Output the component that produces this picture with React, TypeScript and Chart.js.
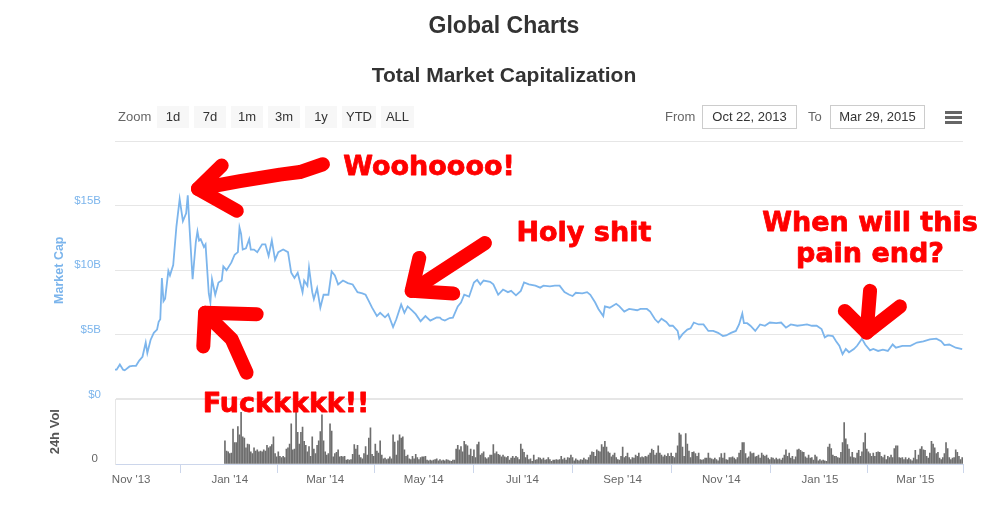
import React, { useEffect, useRef } from 'react';
import { Chart, registerables } from 'chart.js';

Chart.register(...registerables);

// ---- Data (day index: 0 = Oct 22, 2013) ----
// Total market capitalization, [day, $ billions]
const marketCap: [number, number][] = [
  [0, 2.3], [1, 2.3], [3, 2.7], [5, 2.3], [6, 2.25], [9, 2.55], [11, 2.6], [13, 2.6], [15, 3.0], [17, 3.3],
  [19, 4.4], [20, 3.6], [22, 4.6], [24, 5.15], [26, 5.4], [27, 6.0], [28, 6.2], [29, 9.4], [30, 7.6], [31, 7.8],
  [33, 9.95], [34, 9.6], [36, 10.4], [38, 13.4], [40, 15.5], [42, 13.8], [44, 14.4], [45, 15.8], [46, 13.5], [48, 9.3],
  [50, 12.2], [51, 13.0], [52, 12.3], [53, 12.4], [55, 11.8], [56, 12.0], [58, 8.2], [59, 7.5], [60, 9.3], [62, 8.1],
  [64, 9.05], [66, 9.2], [67, 10.3], [69, 10.0], [70, 10.2], [72, 10.6], [74, 11.2], [76, 11.4], [77, 13.3], [78, 12.8],
  [79, 11.6], [81, 11.7], [83, 12.4], [84, 11.6], [86, 11.6], [88, 11.4], [91, 12.0], [93, 12.0], [95, 11.1], [97, 12.3],
  [99, 10.8], [101, 11.4], [104, 11.6], [107, 11.4], [109, 9.8], [111, 9.4], [113, 9.8], [116, 8.3], [117, 9.2], [119, 8.8],
  [120, 10.2], [122, 8.3], [123, 7.75], [125, 8.6], [127, 7.1], [129, 8.1], [132, 8.1], [134, 9.9], [136, 9.6], [138, 8.9],
  [141, 9.2], [144, 9.0], [147, 8.9], [150, 8.3], [153, 8.2], [155, 8.1], [157, 7.6], [159, 7.1], [162, 6.45], [164, 6.7],
  [167, 6.35], [169, 6.6], [172, 5.6], [174, 6.2], [177, 7.35], [179, 6.7], [181, 7.2], [184, 6.85], [186, 6.6], [189, 6.05],
  [192, 6.45], [195, 6.1], [199, 6.35], [201, 6.33], [202, 6.2], [204, 6.1], [207, 6.3], [209, 6.33], [212, 7.2], [214, 7.5],
  [216, 8.1], [219, 7.95], [222, 9.05], [224, 9.25], [226, 8.9], [228, 9.2], [232, 9.1], [234, 8.9], [237, 8.1], [240, 8.5],
  [243, 8.3], [245, 8.4], [248, 8.05], [251, 8.4], [253, 9.05], [256, 8.9], [260, 8.8], [263, 8.65], [265, 8.8], [269, 8.75],
  [272, 8.8], [275, 8.8], [278, 8.3], [281, 8.1], [283, 8.0], [285, 8.25], [289, 8.2], [292, 8.3], [294, 8.1], [297, 7.5],
  [299, 7.0], [302, 6.45], [303, 7.2], [306, 7.1], [310, 7.4], [312, 7.2], [315, 6.8], [318, 7.0], [323, 6.9], [325, 7.0],
  [329, 7.0], [331, 6.8], [334, 6.2], [336, 5.95], [338, 6.25], [341, 6.0], [343, 5.7], [345, 5.7], [348, 5.3], [349, 4.7],
  [351, 5.05], [354, 5.4], [356, 5.5], [358, 5.95], [361, 5.8], [364, 5.8], [367, 5.3], [370, 5.3], [373, 5.15], [376, 4.9],
  [378, 4.95], [381, 5.15], [384, 5.3], [386, 5.8], [388, 6.65], [389, 5.9], [391, 5.9], [393, 5.7], [396, 5.3], [399, 5.8],
  [402, 5.7], [405, 5.95], [409, 5.9], [412, 5.95], [415, 5.55], [418, 5.8], [422, 5.7], [425, 5.75], [428, 5.8], [431, 5.7],
  [434, 5.7], [437, 5.45], [439, 4.8], [441, 4.95], [444, 4.9], [446, 4.5], [448, 4.15], [450, 3.5], [452, 3.9], [454, 3.65],
  [457, 3.9], [459, 4.15], [462, 4.7], [464, 4.25], [467, 3.8], [469, 3.9], [472, 3.75], [475, 3.85], [478, 3.75], [481, 4.25],
  [483, 4.0], [487, 4.15], [492, 4.15], [496, 4.4], [500, 4.5], [504, 4.65], [508, 4.7], [511, 4.5], [513, 4.2], [516, 4.25],
  [520, 4.0], [524, 3.9],
];

// 24h volume, one bar per day starting at volumeStartDay (relative units, axis 0..100)
const volumeStartDay = 68;
const volume: number[] = [
  36, 20, 19, 16, 17, 54, 33, 33, 58, 45, 80, 42, 40, 25, 31, 30, 19, 16, 25, 20,
  22, 19, 20, 19, 22, 20, 29, 25, 27, 30, 42, 16, 11, 19, 12, 10, 12, 10, 23, 25,
  31, 62, 22, 23, 80, 49, 31, 49, 57, 35, 29, 19, 27, 12, 42, 23, 16, 29, 36, 50,
  76, 36, 19, 14, 16, 62, 51, 11, 16, 18, 22, 11, 12, 11, 12, 6, 7, 6, 7, 15,
  30, 23, 29, 14, 10, 8, 16, 27, 14, 40, 56, 15, 12, 31, 20, 17, 36, 14, 8, 9,
  7, 8, 11, 8, 45, 34, 14, 36, 45, 40, 42, 22, 12, 14, 8, 7, 12, 8, 15, 10,
  7, 10, 11, 11, 12, 6, 5, 6, 5, 6, 7, 8, 5, 7, 5, 6, 5, 7, 6, 5,
  4, 6, 6, 23, 29, 22, 27, 19, 35, 30, 28, 14, 23, 12, 22, 10, 30, 34, 14, 16,
  19, 10, 8, 10, 14, 14, 30, 16, 19, 15, 14, 11, 14, 11, 10, 12,
  6, 9, 12, 9, 12, 10, 7, 31, 23, 18, 10, 14, 7, 8,
  4, 14, 6, 7, 10, 9, 7, 9, 6, 7, 10, 7, 4, 6,
  6, 7, 6, 7, 12, 7, 9, 6, 10, 9, 14, 10, 5, 8,
  6, 5, 7, 6, 9, 7, 6, 10, 14, 19, 18, 12, 22, 20,
  19, 30, 26, 35, 26, 19, 17, 11, 14, 17, 10, 7, 6, 12,
  26, 10, 12, 17, 10, 7, 10, 9, 14, 12, 17, 10, 11, 10,
  12, 11, 14, 17, 23, 21, 14, 17, 28, 17, 14, 11, 14, 12,
  16, 12, 17, 12, 10, 17, 28, 48, 45, 26, 12, 47, 31, 20,
  10, 18, 19, 16, 12, 17, 7, 6, 7, 9, 9, 17, 9, 8,
  7, 9, 7, 5, 10, 16, 9, 17, 7, 6, 10, 10, 11, 9,
  7, 10, 17, 21, 33, 33, 16, 9, 11, 19, 16, 17, 11, 12,
  14, 9, 17, 14, 12, 14, 9, 7, 10, 9, 7, 9, 7, 8,
  6, 9, 14, 22, 12, 17, 9, 12, 7, 11, 22, 23, 21, 19,
  18, 11, 9, 14, 9, 10, 6, 14, 11, 5, 7, 5, 6, 5,
  4, 26, 31, 24, 14, 12, 12, 10, 9, 18, 33, 64, 39, 30,
  23, 11, 18, 10, 9, 17, 21, 12, 19, 33, 48, 23, 19, 16,
  12, 17, 12, 18, 19, 18, 12, 10, 14, 7, 12, 10, 14,
  10, 24, 28, 28, 10, 9, 10, 7, 10, 7, 9, 7, 5,
  9, 21, 7, 14, 23, 27, 22, 21, 12, 9, 17, 35, 31, 25,
  16, 18, 9, 7, 10, 16, 33, 24, 10, 7, 9, 10, 22,
  18, 12, 7, 10,
];

const monthTickDays = [10, 71, 130, 191, 252, 314, 375, 436, 495];
const monthTickLabels = ["Nov '13", "Jan '14", "Mar '14", "May '14", "Jul '14", "Sep '14", "Nov '14", "Jan '15", "Mar '15"];
const capTicks = [0, 5, 10, 15, 20];
const volTicks = [0, 100];
const zoomButtons = ['1d', '7d', '1m', '3m', '1y', 'YTD', 'ALL'];
const fromDate = 'Oct 22, 2013';
const toDate = 'Mar 29, 2015';

// Hand-drawn annotations, in data coordinates [day, $B]
const arrowStrokes: [number, number][][] = [
  // "Woohoooo!"
  [[128.6, 18.2], [114.4, 17.6], [102, 17.4], [77.3, 16.9], [51.3, 16.3]],
  [[66, 18.1], [51.3, 16.3], [75.3, 14.6]],
  // "Fuckkkkk!!"
  [[87.6, 6.6], [55.7, 6.7], [54.6, 4.1]],
  [[55.7, 6.7], [60.8, 6.05], [72.2, 4.65], [81.4, 2.07]],
  // "Holy shit"
  [[188.2, 10.95], [183.5, 8.4], [209.2, 8.2]],
  [[183.5, 8.4], [228.8, 12.1]],
  // "When will this pain end?"
  [[467, 8.4], [464.9, 5.17]],
  [[451.4, 6.85], [464.9, 5.17], [485.5, 7.2]],
];
const noteTexts = ['Woohoooo!', 'Holy shit', 'When will this', 'pain end?', 'Fuckkkkk!!'];
const noteDays = [194.2, 290, 467, 467, 105.8];
const noteCaps = [17.4, 12.25, 13.0, 10.6, -1.0];

const FONT = '"Liberation Sans", Arial, sans-serif';
const RED = '#ff0000';

const annotationPlugin = {
  id: 'handDrawnNotes',
  afterDraw(chart: any) {
    const { ctx } = chart;
    const xs = chart.scales.x;
    const ys = chart.scales.y;
    const px = (d: number) => xs.getPixelForValue(d);
    const py = (v: number) => ys.getPixelForValue(v);
    ctx.save();
    ctx.strokeStyle = RED;
    ctx.lineCap = 'round';
    ctx.lineJoin = 'round';
    ctx.lineWidth = 14;
    for (const stroke of arrowStrokes) {
      ctx.beginPath();
      stroke.forEach(([d, v], i) => {
        if (i === 0) ctx.moveTo(px(d), py(v));
        else ctx.lineTo(px(d), py(v));
      });
      ctx.stroke();
    }
    ctx.fillStyle = RED;
    ctx.strokeStyle = RED;
    ctx.lineWidth = 0.8;
    ctx.font = 'bold 27px "DejaVu Sans", sans-serif';
    ctx.textAlign = 'center';
    ctx.textBaseline = 'alphabetic';
    noteTexts.forEach((t, i) => {
      ctx.fillText(t, px(noteDays[i]), py(noteCaps[i]));
      ctx.strokeText(t, px(noteDays[i]), py(noteCaps[i]));
    });
    ctx.restore();
  },
};

export default function App() {
  const ref = useRef<HTMLCanvasElement>(null);

  useEffect(() => {
    if (!ref.current) return;
    const chart = new Chart(ref.current, {
      type: 'line',
      data: {
        datasets: [
          {
            type: 'line',
            label: 'Market Cap',
            data: marketCap.map(([d, v]) => ({ x: d, y: v })),
            borderColor: '#7cb5ec',
            borderWidth: 1.8,
            pointRadius: 0,
            fill: false,
            tension: 0,
            xAxisID: 'x',
            yAxisID: 'y',
          },
          {
            type: 'bar',
            label: '24h Vol',
            data: volume.map((v, i) => ({ x: volumeStartDay + i, y: v })),
            backgroundColor: '#6e6e6e',
            barThickness: 1,
            xAxisID: 'x',
            yAxisID: 'yv',
          },
        ] as any,
      },
      options: {
        responsive: false,
        animation: false,
        layout: { padding: { left: 0, right: 35, top: 141, bottom: 11 } },
        plugins: {
          legend: { display: false },
          tooltip: { enabled: false },
          title: { display: false },
        },
        scales: {
          x: {
            type: 'linear',
            min: 0,
            max: 524.5,
            offset: false,
            afterBuildTicks: (s: any) => {
              s.ticks = monthTickDays.map((v) => ({ value: v }));
            },
            afterFit: (s: any) => {
              s.height = 30;
            },
            ticks: {
              autoSkip: false,
              maxRotation: 0,
              padding: 0,
              color: '#666666',
              font: { family: FONT, size: 11.5 },
              callback: (_v: any, i: number) => monthTickLabels[i] ?? '',
            },
            grid: { drawOnChartArea: false, drawTicks: true, tickLength: 9, color: '#ccd6eb' },
            border: { display: true, color: '#ccd6eb' },
          },
          yv: {
            type: 'linear',
            position: 'left',
            stack: 'panes',
            stackWeight: 1,
            min: 0,
            max: 100,
            afterBuildTicks: (s: any) => {
              s.ticks = volTicks.map((v) => ({ value: v }));
            },
            afterFit: (s: any) => {
              s.width = 115;
            },
            ticks: {
              padding: 17,
              labelOffset: -5.5,
              color: '#666666',
              font: { family: FONT, size: 11.5 },
              callback: (v: any) => (v === 0 ? '0' : ''),
            },
            grid: {
              color: '#e6e6e6',
              drawTicks: false,
              lineWidth: (c: any) => (c.tick && c.tick.value === 100 ? 2 : 1),
            },
            border: { display: true, color: '#e6e6e6' },
            title: {
              display: true,
              text: '24h Vol',
              color: '#555555',
              font: { family: FONT, size: 13, weight: 'bold' },
              padding: { top: 48, bottom: 0 },
            },
          },
          y: {
            type: 'linear',
            position: 'left',
            stack: 'panes',
            stackWeight: 4,
            min: 0,
            max: 20,
            afterBuildTicks: (s: any) => {
              s.ticks = capTicks.map((v) => ({ value: v }));
            },
            afterFit: (s: any) => {
              s.width = 115;
            },
            ticks: {
              padding: 14,
              labelOffset: -5,
              color: '#7cb5ec',
              font: { family: FONT, size: 11.5 },
              callback: (v: any) => (v === 20 ? '' : v === 0 ? '$0' : `$${v}B`),
            },
            grid: { color: '#e6e6e6', drawTicks: false },
            border: { display: false },
            title: {
              display: true,
              text: 'Market Cap',
              color: '#7cb5ec',
              font: { family: FONT, size: 12.5, weight: 'bold' },
              padding: { top: 52, bottom: 0 },
            },
          },
        } as any,
      },
      plugins: [annotationPlugin],
    });
    return () => chart.destroy();
  }, []);

  const btnWidths = (b: string) => (b === 'YTD' ? 34 : b === 'ALL' ? 33 : 32);

  return (
    <div
      style={{
        position: 'absolute',
        left: 0,
        top: 0,
        width: 998,
        height: 505,
        background: '#ffffff',
        overflow: 'hidden',
        fontFamily: FONT,
      }}
    >
      <canvas
        ref={ref}
        width={998}
        height={505}
        style={{ position: 'absolute', left: 0, top: 0, width: 998, height: 505 }}
      />
      <div
        style={{
          position: 'absolute', left: 10, width: 988, top: 10, lineHeight: '30px',
          textAlign: 'center', fontSize: 23, fontWeight: 'bold', color: '#333333',
        }}
      >
        Global Charts
      </div>
      <div
        style={{
          position: 'absolute', left: 10, width: 988, top: 60, lineHeight: '30px',
          textAlign: 'center', fontSize: 21, fontWeight: 'bold', color: '#333333',
        }}
      >
        Total Market Capitalization
      </div>
      <div
        style={{
          position: 'absolute', left: 118, top: 106, height: 22, lineHeight: '22px',
          fontSize: 13, color: '#666666',
        }}
      >
        Zoom
      </div>
      <div style={{ position: 'absolute', left: 157, top: 106, display: 'flex', gap: 5 }}>
        {zoomButtons.map((b) => (
          <div
            key={b}
            style={{
              width: btnWidths(b), height: 22, lineHeight: '22px', textAlign: 'center',
              background: '#f7f7f7', fontSize: 13, color: '#333333',
            }}
          >
            {b}
          </div>
        ))}
      </div>
      <div
        style={{
          position: 'absolute', left: 665, top: 106, height: 22, lineHeight: '22px',
          fontSize: 13, color: '#666666',
        }}
      >
        From
      </div>
      <div
        style={{
          position: 'absolute', left: 702, top: 105, width: 93, height: 22, lineHeight: '22px',
          border: '1px solid #cccccc', textAlign: 'center', fontSize: 13, color: '#333333',
        }}
      >
        {fromDate}
      </div>
      <div
        style={{
          position: 'absolute', left: 808, top: 106, height: 22, lineHeight: '22px',
          fontSize: 13, color: '#666666',
        }}
      >
        To
      </div>
      <div
        style={{
          position: 'absolute', left: 830, top: 105, width: 93, height: 22, lineHeight: '22px',
          border: '1px solid #cccccc', textAlign: 'center', fontSize: 13, color: '#333333',
        }}
      >
        {toDate}
      </div>
      {[111, 116, 121].map((t) => (
        <div
          key={t}
          style={{ position: 'absolute', left: 945, top: t, width: 17, height: 3, background: '#666666' }}
        />
      ))}
    </div>
  );
}
